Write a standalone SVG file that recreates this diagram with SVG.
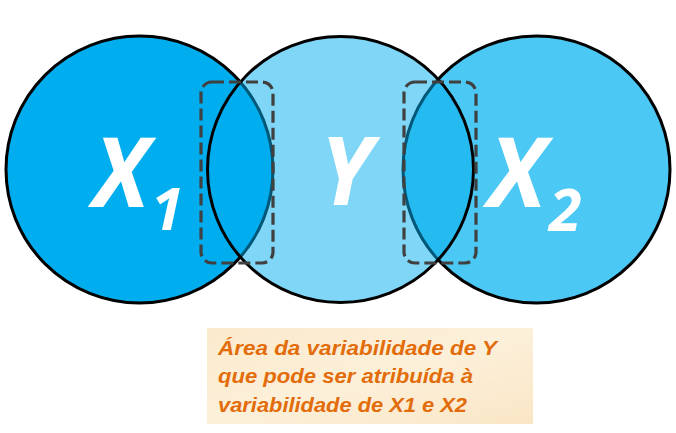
<svg xmlns="http://www.w3.org/2000/svg" width="676" height="433" viewBox="0 0 676 433">
<style>
.circ{stroke:#000;stroke-width:3}
.lbl{font-family:"Open Sans","Liberation Sans",sans-serif;font-weight:bold;font-style:italic;fill:#fff}
.dash{fill:none;stroke:#404040;stroke-width:3.2;stroke-dasharray:12 5}
.note{font-family:"Liberation Sans","DejaVu Sans",sans-serif;font-weight:bold;font-style:italic;fill:#E36C0A;font-size:20px}
</style>
<defs>
<linearGradient id="parch" x1="0" y1="0" x2="1" y2="1">
<stop offset="0" stop-color="#FBE9CC"/>
<stop offset="0.5" stop-color="#FCF0DA"/>
<stop offset="1" stop-color="#FAE6C6"/>
</linearGradient>
</defs>
<rect width="676" height="433" fill="#fff"/>
<g id="X1">
<circle class="circ" cx="139.5" cy="169.5" r="133.5" fill="#00AEEF"/>
</g>
<g id="X2">
<circle class="circ" cx="536.5" cy="169.5" r="133.5" fill="#4BC8F3"/>
</g>
<g id="Y">
<circle class="circ" cx="340.5" cy="169.5" r="133" fill="#00AEEF" fill-opacity="0.5"/>
</g>
<g id="labels">
<text class="lbl" x="93" y="207" font-size="97" textLength="56" lengthAdjust="spacingAndGlyphs">X</text>
<text class="lbl" x="151" y="230" font-size="59">1</text>
<text class="lbl" x="320" y="205" font-size="95" textLength="52" lengthAdjust="spacingAndGlyphs">Y</text>
<text class="lbl" x="488" y="207" font-size="97" textLength="58" lengthAdjust="spacingAndGlyphs">X</text>
<text class="lbl" x="549" y="231" font-size="59">2</text>
</g>
<g id="connectors">
<rect class="dash" x="201" y="82" width="72" height="181" rx="11"/>
<rect class="dash" x="404" y="82" width="72" height="181" rx="11"/>
</g>
<g id="note">
<rect x="207" y="328" width="326" height="96" fill="url(#parch)"/>
<text class="note" x="218" y="355" textLength="279" lengthAdjust="spacingAndGlyphs">Área da variabilidade de Y</text>
<text class="note" x="218" y="383" textLength="255" lengthAdjust="spacingAndGlyphs">que pode ser atribuída à</text>
<text class="note" x="218" y="412" textLength="249" lengthAdjust="spacingAndGlyphs">variabilidade de X1 e X2</text>
</g>
</svg>
